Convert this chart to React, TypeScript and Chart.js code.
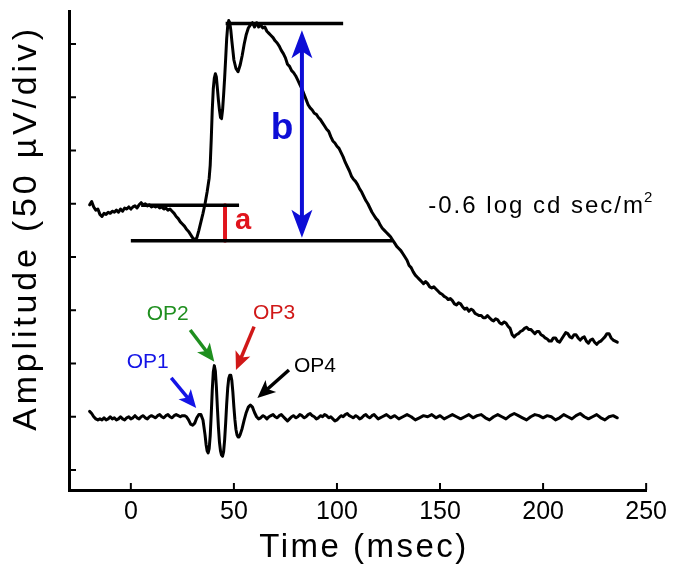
import React, { useEffect, useRef } from 'react';
import { Chart, registerables } from 'chart.js';
Chart.register(...registerables);

// ---- data (time in msec, amplitude in µV) ----
const ergTime = [
  -20,-19,-18,-17,-16,-15,-14,-13,-12,-11,-10,-9,-8,-7,-6,-5,-4,-3,-2,-1,
  0,1,2,3,4,5,6,7,8,9,10,11,12,13,14,15,16,17,18,19,
  20,21,22,23,24,25,26,27,28,29,30,31,32,33,34,35,36,37,38,38.5,
  39,39.5,40,40.5,41,41.5,42,42.5,43,43.5,44,44.5,45,45.5,46,46.5,47,47.5,48,48.5,
  49,49.5,50,51,52,53,54,55,56,57,58,59,60,61,62,63,64,65,66,67,
  68,69,70,71,72,73,74,75,76,77,78,79,80,81,82,83,84,85,86,87,
  88,89,90,91,92,93,94,95,96,97,98,99,100,101,102,103,104,105,106,107,
  108,109,110,111,112,113,114,115,116,117,118,119,120,121,122,123,124,125,126,127,
  128,129,130,131,132,133,134,135,136,137,138,139,140,141,142,143,144,145,146,147,
  148,149,150,151,152,153,154,155,156,157,158,159,160,161,162,163,164,165,166,167,
  168,169,170,171,172,173,174,175,176,177,178,179,180,181,182,183,184,185,186,187,
  188,189,190,191,192,193,194,195,196,197,198,199,200,201,202,203,204,205,206,207,
  208,209,210,211,212,213,214,215,216,217,218,219,220,221,222,223,224,225,226,227,
  228,229,230,231,232,233,234,235,236
];
const ergAmp = [
  249,252,247,244,245,240,238,241,240,242,241,243,242,244,242,245,243,246,245,247,
  245,247,248,246,249,251,249,250,248,249,247,248,247,248,246,247,245,246,244,245,
  243,241,238,236,233,231,229,226,224,221,218,216,218,225,233,241,250,261,274,286,
  310,338,358,368,372,369,358,347,338,331,330,338,352,368,386,405,417,422,420,413,
  403,394,385,377,374,380,389,400,409,415,418,420,416,420,416,418,415,416,412,410,
  408,406,403,401,398,394,391,387,381,379,375,373,370,366,362,358,353,348,343,340,
  338,335,334,331,329,326,323,320,318,313,309,307,304,302,298,294,289,285,281,276,
  273,271,268,264,261,257,253,250,246,242,239,236,234,230,227,225,223,221,219,216,
  213,210,208,206,203,200,197,192,190,186,183,181,179,177,175,177,175,172,171,172,
  170,168,166,165,163,162,160,161,159,156,155,157,156,153,151,152,149,151,150,147,
  146,145,145,143,143,145,143,141,140,142,141,138,137,139,138,135,133,127,125,127,
  128,130,131,133,134,132,132,130,128,130,130,127,126,124,123,121,121,124,124,121,
  120,123,126,129,128,125,124,127,127,124,122,124,125,121,119,122,123,120,118,120,
  121,123,125,128,128,124,122,121,120
];

const opTime = [
  -20,-19,-18,-17,-16,-15,-14,-13,-12,-11,-10,-9,-8,-7,-6,-5,-4,-3,-2,-1,
  0,1,2,3,4,5,6,7,8,9,10,11,12,13,14,15,16,17,18,19,
  20,21,22,23,24,25,26,27,28,29,30,31,32,33,34,35,36,36.5,37,37.5,
  38,38.5,39,39.5,40,40.5,41,41.5,42,42.5,43,43.5,44,44.5,45,45.5,46,46.5,47,47.5,
  48,48.5,49,49.5,50,50.5,51,51.5,52,52.5,53,54,55,56,57,58,59,60,61,62,
  63,64,65,66,67,68,69,70,71,72,73,74,75,76,77,78,79,80,81,82,
  83,84,85,86,87,88,89,90,91,92,93,94,95,96,97,98,99,100,101,102,
  103,104,105,106,107,108,109,110,111,112,113,114,115,116,117,118,119,120,122,124,
  126,128,130,132,134,136,138,140,142,144,146,148,150,152,154,156,158,160,162,164,
  166,168,170,172,174,176,178,180,182,184,186,188,190,192,194,196,198,200,202,204,
  206,208,210,212,214,216,218,220,222,224,226,228,230,232,234,236
];
const opAmp = [
  55,53,50,48,47,48,47,49,47,48,50,48,49,47,48,50,48,47,49,50,
  48,49,51,49,48,50,51,49,48,50,51,50,49,51,52,50,49,51,52,50,
  49,51,52,51,50,51,51,50,47,43,42,44,49,52,52,47,33,24,18,16,
  20,32,52,75,92,98,93,78,58,40,26,18,14,13,17,28,44,62,77,86,
  89,89,84,73,59,47,38,33,31,31,33,39,47,54,59,61,59,54,50,48,
  49,51,50,48,50,51,52,50,49,51,52,50,48,46,48,50,51,49,50,52,
  51,49,50,52,53,51,50,48,49,51,50,52,51,49,50,48,46,47,49,51,
  50,52,53,51,50,49,51,50,48,49,51,52,50,49,51,52,50,48,50,52,
  49,51,48,50,52,50,47,49,51,50,52,49,51,48,50,52,50,48,50,52,
  49,51,52,49,47,50,52,50,48,51,53,51,49,47,50,52,51,49,51,50,
  47,49,52,50,48,51,53,50,48,50,52,49,47,50,51,49
];

// reference lines & markers (data units)
const baselineLineT = [5, 52.5];
const baselineLevel = 248.6;
const troughLineT = [0, 127];
const troughLevel = 215.3;
const peakLineT = [46, 103];
const peakLevel = 419.3;
const aMarkerT = 45.7;
const bMarkerT = 83;
const bMarkerRange = [218, 413];

const xTicks = [0, 50, 100, 150, 200, 250];
const yTicks = [0, 50, 100, 150, 200, 250, 300, 350, 400];

// OP labels: [text, labelT, labelV, arrowFromT, arrowFromV, arrowToT, arrowToV, color]
const opLabels: [string, number, number, number, number, number, number, string][] = [
  ['OP1', 8.2, 101.4, 19.6, 86.4, 31.7, 58.2, '#1414e6'],
  ['OP2', 17.9, 146.5, 28.8, 131.5, 40.5, 101.7, '#1f8f1f'],
  ['OP3', 69.5, 147.4, 59.8, 134.6, 51.0, 93.9, '#d01818'],
  ['OP4', 89.3, 97.7, 76.7, 93.9, 61.4, 67.6, '#000000'],
];

const FONT = "'Liberation Sans', Arial, Helvetica, sans-serif";

function pts(t: number[], v: number[]) {
  return t.map((x, i) => ({ x, y: v[i] }));
}

function drawArrow(ctx: CanvasRenderingContext2D, x1: number, y1: number, x2: number, y2: number,
  color: string, lw: number, hl: number, hw: number) {
  const ang = Math.atan2(y2 - y1, x2 - x1);
  const c = Math.cos(ang), s = Math.sin(ang);
  const px = -s, py = c;
  const nx = x2 - hl * 0.75 * c, ny = y2 - hl * 0.75 * s;
  ctx.strokeStyle = color;
  ctx.fillStyle = color;
  ctx.lineWidth = lw;
  ctx.lineCap = 'butt';
  ctx.beginPath();
  ctx.moveTo(x1, y1);
  ctx.lineTo(nx + c, ny + s);
  ctx.stroke();
  const bx = x2 - hl * c, by = y2 - hl * s;
  ctx.beginPath();
  ctx.moveTo(x2, y2);
  ctx.lineTo(bx + px * hw / 2, by + py * hw / 2);
  ctx.lineTo(nx, ny);
  ctx.lineTo(bx - px * hw / 2, by - py * hw / 2);
  ctx.closePath();
  ctx.fill();
}

function spacedText(ctx: CanvasRenderingContext2D, text: string, x: number, y: number,
  font: string, spacing: number, align: CanvasTextAlign, color: string) {
  ctx.font = font;
  (ctx as any).letterSpacing = spacing + 'px';
  ctx.fillStyle = color;
  ctx.textAlign = align;
  ctx.textBaseline = 'alphabetic';
  ctx.fillText(text, x, y);
  (ctx as any).letterSpacing = '0px';
}

const annotPlugin = {
  id: 'annot',
  afterDraw(chart: any) {
    const { ctx, chartArea } = chart;
    const xs = chart.scales.x, ys = chart.scales.y;
    const X = (t: number) => xs.getPixelForValue(t);
    const Y = (v: number) => ys.getPixelForValue(v);
    ctx.save();
    // inward tick marks
    ctx.strokeStyle = '#000';
    ctx.lineWidth = 2;
    yTicks.forEach(v => {
      const py = Y(v);
      ctx.beginPath();
      ctx.moveTo(chartArea.left, py);
      ctx.lineTo(chartArea.left + 7, py);
      ctx.stroke();
    });
    xTicks.forEach(t => {
      const px = X(t);
      ctx.beginPath();
      ctx.moveTo(px, chartArea.bottom);
      ctx.lineTo(px, chartArea.bottom - 7);
      ctx.stroke();
    });

    // b double arrow
    const bx = X(bMarkerT);
    const mid = (Y(bMarkerRange[0]) + Y(bMarkerRange[1])) / 2;
    drawArrow(ctx, bx, mid, bx, Y(bMarkerRange[1]), '#0d0dd6', 4, 28, 21);
    drawArrow(ctx, bx, mid, bx, Y(bMarkerRange[0]), '#0d0dd6', 4, 28, 21);

    // a / b labels
    ctx.textAlign = 'center';
    ctx.textBaseline = 'middle';
    ctx.fillStyle = '#e0141c';
    ctx.font = `bold 29px ${FONT}`;
    ctx.fillText('a', X(54.5), Y(233.8));
    ctx.fillStyle = '#0d0dd6';
    ctx.font = `bold 37px ${FONT}`;
    ctx.fillText('b', X(73.4), Y(320.2));

    // OP labels & arrows
    opLabels.forEach(([txt, lt, lv, ft, fv, tt, tv, col]) => {
      ctx.fillStyle = col;
      ctx.font = `21px ${FONT}`;
      ctx.textAlign = 'center';
      ctx.textBaseline = 'middle';
      ctx.fillText(txt, X(lt), Y(lv));
      drawArrow(ctx, X(ft), Y(fv), X(tt), Y(tv), col, 3.5, 18, 16);
    });

    // stimulus annotation
    const sx = X(144.3), sy = Y(241.3);
    const stimText = '-0.6 log cd sec/m';
    spacedText(ctx, stimText, sx, sy, `24px ${FONT}`, 2, 'left', '#000');
    ctx.font = `24px ${FONT}`;
    (ctx as any).letterSpacing = '2px';
    const w = ctx.measureText(stimText).width;
    (ctx as any).letterSpacing = '0px';
    spacedText(ctx, '2', sx + w - 1, sy - 11, `15px ${FONT}`, 0, 'left', '#000');

    // axis titles
    spacedText(ctx, 'Time (msec)', 364, 557, `33px ${FONT}`, 2.5, 'center', '#000');
    ctx.save();
    ctx.translate(36, 228);
    ctx.rotate(-Math.PI / 2);
    spacedText(ctx, 'Amplitude (50 \u00b5V/div)', 0, 0, `34px ${FONT}`, 3.8, 'center', '#000');
    ctx.restore();

    ctx.restore();
  },
};

export default function App() {
  const ref = useRef<HTMLCanvasElement>(null);
  useEffect(() => {
    document.body.style.margin = '0';
    const lineDs = (data: any[], color: string, width: number, cap: any = 'butt') => ({
      data, borderColor: color, borderWidth: width, pointRadius: 0, fill: false,
      tension: 0, borderCapStyle: cap, borderJoinStyle: 'round',
    });
    const chart = new Chart(ref.current!, {
      type: 'line',
      data: {
        datasets: [
          lineDs(pts(ergTime, ergAmp), '#000', 3, 'round'),
          lineDs(pts(opTime, opAmp), '#000', 3, 'round'),
          lineDs(baselineLineT.map(t => ({ x: t, y: baselineLevel })), '#000', 3.5),
          lineDs(troughLineT.map(t => ({ x: t, y: troughLevel })), '#000', 3.5),
          lineDs(peakLineT.map(t => ({ x: t, y: peakLevel })), '#000', 3.5),
          lineDs([{ x: aMarkerT, y: baselineLevel }, { x: aMarkerT, y: troughLevel }], '#e0141c', 4),
        ] as any,
      },
      options: {
        responsive: false,
        animation: false,
        events: [],
        layout: { padding: { top: 11, right: 25, left: 0, bottom: 0 } },
        plugins: { legend: { display: false }, tooltip: { enabled: false } },
        scales: {
          x: {
            type: 'linear',
            min: -30,
            max: 250,
            afterFit: (s: any) => { s.height = 79; },
            afterBuildTicks: (s: any) => { s.ticks = xTicks.map(v => ({ value: v })); },
            grid: { display: false, drawTicks: false },
            border: { display: true, color: '#000', width: 3 },
            ticks: { color: '#000', font: { family: FONT, size: 25 }, padding: 7, maxRotation: 0, autoSkip: false },
          },
          y: {
            type: 'linear',
            min: -18.8,
            max: 431,
            afterFit: (s: any) => { s.width = 69; },
            afterBuildTicks: (s: any) => { s.ticks = yTicks.map(v => ({ value: v })); },
            grid: { display: false, drawTicks: false },
            border: { display: true, color: '#000', width: 3 },
            ticks: { display: false },
          },
        },
      } as any,
      plugins: [annotPlugin],
    });
    return () => chart.destroy();
  }, []);
  return (
    <div style={{ width: 674, height: 569 }}>
      <canvas ref={ref} width={674} height={569} style={{ width: 674, height: 569, display: 'block' }} />
    </div>
  );
}
